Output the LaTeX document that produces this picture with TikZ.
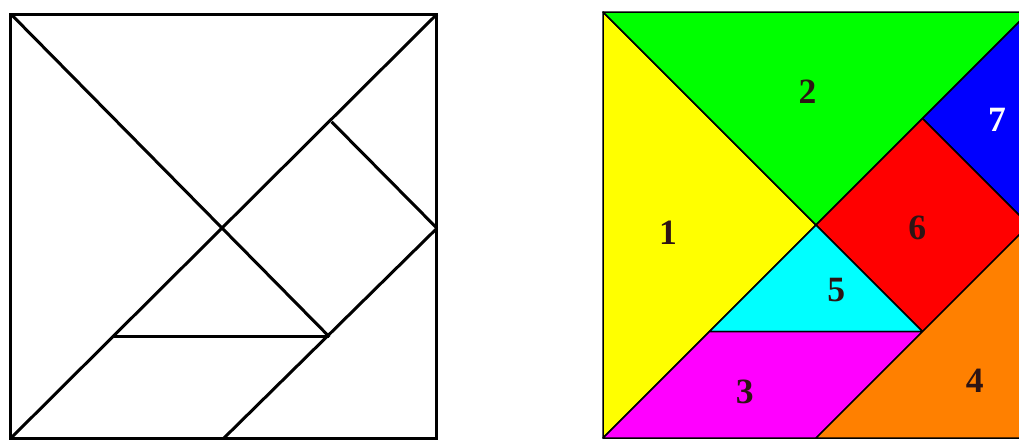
\documentclass[tikz,border=0pt]{standalone}
\usepackage{fontspec}
\setmainfont{Liberation Serif}
\usepackage{tikz}
\usetikzlibrary{positioning}
\definecolor{tgyellow}{RGB}{255,255,0}
\definecolor{tggreen}{RGB}{0,255,0}
\definecolor{tgblue}{RGB}{0,0,255}
\definecolor{tgred}{RGB}{255,0,0}
\definecolor{tgcyan}{RGB}{0,255,255}
\definecolor{tgmagenta}{RGB}{255,0,255}
\definecolor{tgorange}{RGB}{255,128,0}
\definecolor{tgink}{RGB}{45,20,20}
\tikzset{
  piece/.style={draw=black,line width=0.8pt,line join=round},
  piecelabel/.style={font=\fontsize{19}{19}\selectfont\bfseries,text=tgink}
}

\begin{document}
\begin{tikzpicture}[x=2cm,y=2cm]
  \clip (-0.103,-0.028) rectangle (9.465,4.113);
  % Left square, outlines only
  \begin{scope}[line width=1.6pt]
    \draw (0,0) rectangle (4,3.98);
    \draw (0,0) -- (4,3.98); % long diagonal
    \draw (0,3.98) -- (2.99,0.95);
    \draw (2,0) -- (4,1.97);
    \draw (0.96,0.95) -- (2.99,0.95);
    \draw (3.01,2.97) -- (4,1.97);
  \end{scope}
  % Right square, coloured pieces
  \begin{scope}[shift={(5.559,0)}]
    \filldraw[piece,fill=tgyellow] (0,0) -- (0,4) -- (2,2) -- cycle;
    \filldraw[piece,fill=tggreen] (0,4) -- (4,4) -- (2,2) -- cycle;
    \filldraw[piece,fill=tgblue] (3,3) -- (4,4) -- (4,2) -- cycle;
    \filldraw[piece,fill=tgred] (2,2) -- (3,3) -- (4,2) -- (3,1) -- cycle;
    \filldraw[piece,fill=tgcyan] (1,1) -- (2,2) -- (3,1) -- cycle;
    \filldraw[piece,fill=tgmagenta] (0,0) -- (2,0) -- (3,1) -- (1,1) -- cycle;
    \filldraw[piece,fill=tgorange] (2,0) -- (4,0) -- (4,2) -- cycle;
    % Numbers
    \node[piecelabel] (n1) at (0.61,1.93) {1};
    \node[piecelabel] (n2) at (1.92,3.25) {2};
    \node[piecelabel] (n3) at (1.33,0.43) {3};
    \node[piecelabel] (n4) at (3.49,0.54) {4};
    \node[piecelabel] (n5) at (2.19,1.39) {5};
    \node[piecelabel] (n6) at (2.95,1.97) {6};
    \node[piecelabel,text=white] (n7) at (3.70,2.99) {7};
  \end{scope}
\end{tikzpicture}
\end{document}
